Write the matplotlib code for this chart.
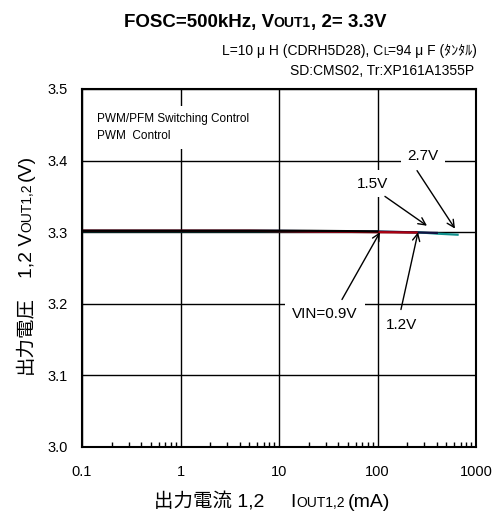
import matplotlib
matplotlib.use("Agg")
from matplotlib import pyplot as plt
from matplotlib.ticker import NullFormatter

plt.rcParams['font.family'] = ['Liberation Sans', 'Noto Sans CJK JP']

# output current (mA) vs output voltage (V), one series per input voltage
iout_09 = [0.1, 0.2, 0.5, 1, 2, 5, 10, 20, 50, 100]
vout_09 = [3.302, 3.302, 3.302, 3.302, 3.302, 3.302, 3.302, 3.302, 3.3015, 3.301]

iout_12 = [0.1, 0.2, 0.5, 1, 2, 5, 10, 20, 50, 100, 250]
vout_12 = [3.302, 3.302, 3.302, 3.302, 3.302, 3.302, 3.3015, 3.301, 3.3005, 3.300, 3.2995]

iout_15 = [0.1, 0.2, 0.5, 1, 2, 5, 10, 20, 50, 100, 200, 400]
vout_15 = [3.302, 3.302, 3.302, 3.302, 3.302, 3.302, 3.302, 3.3015, 3.301, 3.301, 3.300, 3.299]

iout_27 = [0.1, 0.2, 0.5, 1, 2, 5, 10, 20, 50, 100, 250, 400, 650]
vout_27 = [3.3015, 3.3015, 3.3015, 3.3015, 3.3015, 3.3015, 3.3015, 3.3015, 3.301, 3.3005, 3.300, 3.298, 3.2965]

x_ticks = [0.1, 1, 10, 100, 1000]
x_labels = ['0.1', '1', '10', '100', '1000']
y_ticks = [3.0, 3.1, 3.2, 3.3, 3.4, 3.5]

W, H = 496, 516
fig = plt.figure(figsize=(W / 100, H / 100), dpi=100)
ax = fig.add_axes([82 / W, 1 - 447 / H, 394 / W, 358 / H])

ax.plot(iout_27, vout_27, color='#10908c', lw=1.6)
ax.plot(iout_15, vout_15, color='#101040', lw=1.6)
ax.plot(iout_12, vout_12, color='#b00010', lw=1.6)
ax.plot(iout_09, vout_09, color='black', lw=1.6)

ax.set_xscale('log')
ax.set_xlim(0.1, 1000)
ax.set_ylim(3.0, 3.5)
ax.set_xticks(x_ticks, labels=x_labels)
ax.set_yticks(y_ticks, labels=['%.1f' % v for v in y_ticks])
ax.xaxis.set_minor_formatter(NullFormatter())
ax.grid(True, which='major', color='black', lw=1)
ax.tick_params(which='major', length=0, labelsize=10.5)
ax.tick_params(axis='x', which='major', pad=13)
ax.tick_params(axis='y', which='major', pad=10)
ax.tick_params(axis='x', which='minor', direction='in', length=3.5, width=1, bottom=True, top=False)
ax.tick_params(axis='y', which='minor', length=0)
for sp in ax.spines.values():
    sp.set_linewidth(1.5)

box = dict(boxstyle='square,pad=0.45', fc='white', ec='none')
ax.text(0.142, 3.466, 'PWM/PFM Switching Control\nPWM  Control', fontsize=8.5,
        ha='left', va='top', linespacing=1.55,
        bbox=dict(boxstyle='square,pad=0.6', fc='white', ec='none'))

# input voltage labels with pointer arrows
arrow = dict(arrowstyle='->', color='black', lw=1, mutation_scale=13, shrinkA=0, shrinkB=0)
ax.text(290, 3.406, '2.7V', fontsize=11, ha='center', va='center', bbox=box)
ax.annotate('', xy=(612, 3.305), xytext=(252, 3.386), arrowprops=arrow)
ax.text(88, 3.368, '1.5V', fontsize=11, ha='center', va='center', bbox=box)
ax.annotate('', xy=(318, 3.309), xytext=(119, 3.350), arrowprops=arrow)
ax.text(29.3, 3.186, 'VIN=0.9V', fontsize=11, ha='center', va='center', bbox=box)
ax.annotate('', xy=(106, 3.300), xytext=(43.6, 3.206), arrowprops=arrow)
ax.text(177, 3.171, '1.2V', fontsize=11, ha='center', va='center')
ax.annotate('', xy=(258, 3.300), xytext=(173, 3.192), arrowprops=arrow)


def rich_text(x, y, pieces, ha='left', vertical=False):
    # pieces: (text, size, weight, gap after in px); x, y in pixels from top-left
    r = fig.canvas.get_renderer()
    texts, widths = [], []
    for s, size, weight, gap in pieces:
        t = fig.text(0, 0, s, fontsize=size, fontweight=weight,
                     rotation=90 if vertical else 0, rotation_mode='anchor',
                     ha='left', va='baseline')
        bb = t.get_window_extent(r)
        texts.append(t)
        widths.append((bb.height if vertical else bb.width) + gap)
    total = sum(widths)
    start = (x if not vertical else y)
    if ha == 'center':
        start = start - total / 2 if not vertical else start + total / 2
    elif ha == 'right':
        start = start - total if not vertical else start + total
    pos = start
    for t, w in zip(texts, widths):
        if vertical:
            t.set_position((x / W, 1 - pos / H))
            pos -= w
        else:
            t.set_position((pos / W, 1 - y / H))
            pos += w


rich_text(255, 27, [('FOSC=500kHz, V', 13.5, 'bold', 0),
                    ('OUT1', 10, 'bold', 0),
                    (', 2= 3.3V', 13.5, 'bold', 0)], ha='center')
rich_text(477, 55, [('L=10 μ H (CDRH5D28), C', 10, 'normal', 0),
                    ('L', 7, 'normal', 0),
                    ('=94 μ F (ﾀﾝﾀﾙ)', 10, 'normal', 0)], ha='right')
rich_text(474, 75, [('SD:CMS02, Tr:XP161A1355P', 10, 'normal', 0)], ha='right')

rich_text(272, 507, [('出力電流 1,2', 14, 'normal', 26),
                     ('I', 14, 'normal', 1),
                     ('OUT1,2', 10, 'normal', 3),
                     ('(mA)', 14, 'normal', 0)], ha='center')
rich_text(31, 264, [('出力電圧', 14, 'normal', 18),
                    ('1,2 V', 14, 'normal', 0),
                    ('OUT1,2', 10, 'normal', 3),
                    ('(V)', 14, 'normal', 0)], ha='center', vertical=True)

plt.savefig('out.png', dpi=100)
